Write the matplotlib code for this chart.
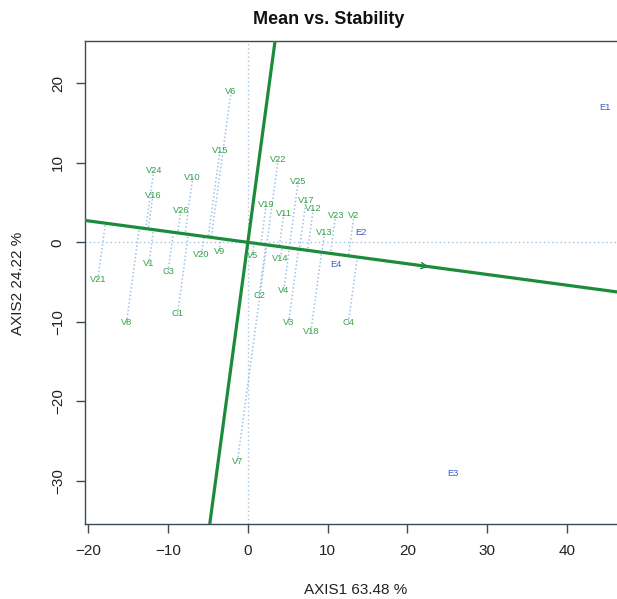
import numpy as np
import matplotlib
matplotlib.use("Agg")
import matplotlib.pyplot as plt

plt.rcParams['font.family'] = ['Liberation Sans', 'DejaVu Sans']

# Genotype scores
gen_names = ["V6", "V15", "V22", "V24", "V10", "V25", "V16", "V17", "V19", "V12",
             "V26", "V11", "V23", "V2", "V13", "V20", "V9", "V5", "V14", "V1",
             "C3", "V21", "V4", "C2", "C1", "V8", "V3", "C4", "V18", "V7"]
gen_x = [-2.1, -3.5, 3.8, -11.8, -6.9, 6.3, -11.9, 7.3, 2.3, 8.2,
         -8.4, 4.5, 11.0, 13.3, 9.6, -5.8, -3.6, 0.6, 4.1, -12.4,
         -10.0, -18.8, 4.5, 1.4, -8.8, -15.2, 5.1, 12.6, 7.9, -1.3]
gen_y = [19.0, 11.5, 10.4, 9.0, 8.2, 7.6, 5.9, 5.3, 4.7, 4.2,
         4.0, 3.6, 3.4, 3.4, 1.2, -1.5, -1.1, -1.6, -2.0, -2.7,
         -3.7, -4.7, -6.0, -6.7, -9.0, -10.1, -10.1, -10.1, -11.2, -27.5]

# Environment scores
env_names = ["E1", "E2", "E3", "E4"]
env_x = [44.7, 14.1, 25.7, 11.0]
env_y = [16.9, 1.2, -29.0, -2.8]

# Average environment (arrow head on AEC abscissa)
aec_point = [23.0, -3.1]

x_ticks = [-20, -10, 0, 10, 20, 30, 40]
y_ticks = [-30, -20, -10, 0, 10, 20]

W, H = 617, 599
fig = plt.figure(figsize=(W / 100, H / 100), dpi=100)
left, right, top, bottom = 85, 625, 41, 524
ax = fig.add_axes([left / W, 1 - bottom / H, (right - left) / W, (bottom - top) / H])
ax.set_xlim(-20.4, 47.25)
ax.set_ylim(-35.4, 25.3)

green_line = '#1c8c3c'
green_text = '#36a048'
blue_text = '#3a5bd0'
dot_col = '#9cc2e6'

# zero reference lines
ax.axhline(0, color='#a9c4dc', lw=1.0, ls=(0, (1, 2)), zorder=1)
ax.axvline(0, color='#a9c4dc', lw=1.0, ls=(0, (1, 2)), zorder=1)

# AEC abscissa and ordinate
ux, uy = aec_point
norm = np.hypot(ux, uy)
ux, uy = ux / norm, uy / norm
t = np.array([-200, 200])
ax.plot(t * ux, t * uy, color=green_line, lw=2.3, zorder=3)
ax.plot(-t * uy, t * ux, color=green_line, lw=2.3, zorder=3)
ax.annotate('', xy=(aec_point[0], aec_point[1]),
            xytext=(aec_point[0] - 3 * ux, aec_point[1] - 3 * uy),
            arrowprops=dict(arrowstyle='->', color=green_line, lw=1.0,
                            mutation_scale=11), zorder=4)

# projections of genotypes onto AEC abscissa
for x, y in zip(gen_x, gen_y):
    d = x * ux + y * uy
    ax.plot([x, d * ux], [y, d * uy], color=dot_col, lw=1.1,
            ls=(0, (1, 1.5)), zorder=2)

for n, x, y in zip(gen_names, gen_x, gen_y):
    ax.text(x, y, n, color=green_text, fontsize=6.7, ha='center', va='center', zorder=5)
for n, x, y in zip(env_names, env_x, env_y):
    ax.text(x, y, n, color=blue_text, fontsize=6.7, ha='center', va='center', zorder=5)

spine_col = '#3d4b55'
for s in ax.spines.values():
    s.set_color(spine_col)
    s.set_linewidth(1.0)

ax.set_xticks(x_ticks)
ax.set_yticks(y_ticks)
ax.set_xticklabels([str(v).replace('-', '\u2212') for v in x_ticks])
ax.set_yticklabels([str(v).replace('-', '\u2212') for v in y_ticks],
                   rotation=90, va='center')
ax.tick_params(axis='both', direction='out', length=6.5, width=1.0,
               color=spine_col, labelsize=11, pad=8, labelcolor='#222222')

fig.text(329 / W, 1 - 20 / H, "Mean vs. Stability", fontsize=13,
         fontweight='bold', ha='center', va='center', color='#111111')
fig.text(356 / W, 1 - 590 / H, "AXIS1 63.48 %", fontsize=11,
         ha='center', va='center', color='#222222')
fig.text(18 / W, 1 - 283 / H, "AXIS2 24.22 %", fontsize=11, rotation=90,
         ha='center', va='center', color='#222222')

fig.savefig("out.png", dpi=100)
